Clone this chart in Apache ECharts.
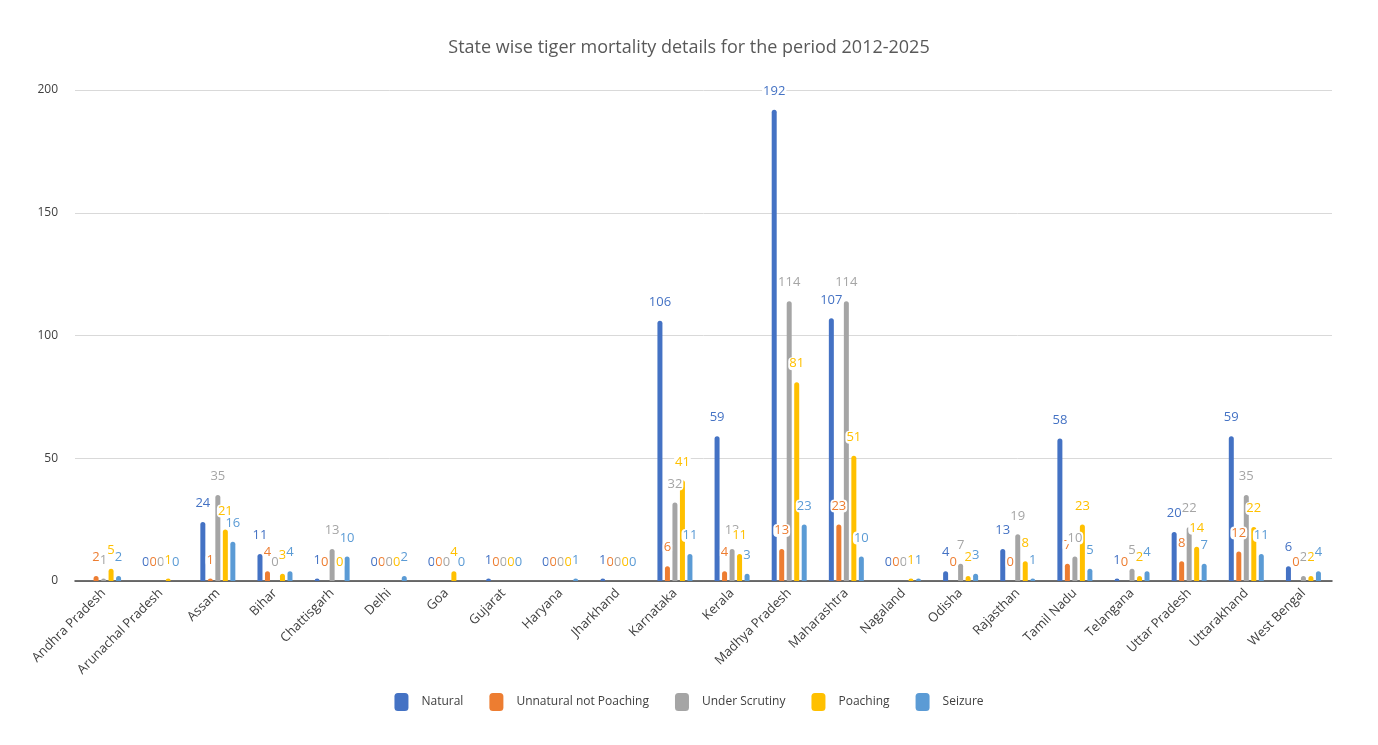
<!DOCTYPE html>
<html>
<head>
<meta charset="utf-8">
<script src="https://cdn.jsdelivr.net/npm/echarts@6/dist/echarts.min.js"></script>
<style>
  html, body { margin: 0; padding: 0; background: #fff; }
  #chart { width: 1378px; height: 745px; }
</style>
</head>
<body>
<div id="chart"></div>
<script>
// States (category axis)
const states = ['Andhra Pradesh', 'Arunachal Pradesh', 'Assam', 'Bihar', 'Chattisgarh', 'Delhi', 'Goa',
  'Gujarat', 'Haryana', 'Jharkhand', 'Karnataka', 'Kerala', 'Madhya Pradesh', 'Maharashtra', 'Nagaland',
  'Odisha', 'Rajasthan', 'Tamil Nadu', 'Telangana', 'Uttar Pradesh', 'Uttarakhand', 'West Bengal'];

// Values per cause (null = no entry)
const natural   = [null, 0, 24, 11, 1, 0, 0, 1, 0, 1, 106, 59, 192, 107, 0, 4, 13, 58, 1, 20, 59, 6];
const unnatural = [2, 0, 1, 4, 0, 0, 0, 0, 0, 0, 6, 4, 13, 23, 0, 0, 0, 7, 0, 8, 12, 0];
const scrutiny  = [1, 0, 35, 0, 13, 0, 0, 0, 0, 0, 32, 13, 114, 114, 0, 7, 19, 10, 5, 22, 35, 2];
const poaching  = [5, 1, 21, 3, 0, 0, 4, 0, 0, 0, 41, 11, 81, 51, 1, 2, 8, 23, 2, 14, 22, 2];
const seizure   = [2, 0, 16, 4, 10, 2, 0, 0, 1, 0, 11, 3, 23, 10, 1, 3, 1, 5, 4, 7, 11, 4];

const yTicks = [0, 50, 100, 150, 200];

const seriesDefs = [
  { name: 'Natural', data: natural, color: '#4472C4' },
  { name: 'Unnatural not Poaching', data: unnatural, color: '#ED7D31' },
  { name: 'Under Scrutiny', data: scrutiny, color: '#A5A5A5' },
  { name: 'Poaching', data: poaching, color: '#FFC000' },
  { name: 'Seizure', data: seizure, color: '#5B9BD5' }
];

const chart = echarts.init(document.getElementById('chart'));

const option = {
  textStyle: { fontFamily: 'Open Sans' },
  title: {
    text: 'State wise tiger mortality details for the period 2012-2025',
    left: 'center',
    top: 34,
    textStyle: { color: '#595959', fontSize: 18, fontWeight: 'normal', fontFamily: 'Open Sans' }
  },
  legend: {
    bottom: 29,
    left: 'center',
    itemWidth: 14,
    itemHeight: 18,
    itemGap: 26,
    icon: 'roundRect',
    textStyle: { color: '#404040', fontSize: 12, padding: [0, 0, 0, 8] },
    data: seriesDefs.map(s => s.name)
  },
  grid: { left: 75, right: 46, top: 90, bottom: 164 },
  xAxis: {
    type: 'category',
    data: states,
    axisTick: { show: false },
    axisLine: { lineStyle: { color: '#404040', width: 1.5 } },
    axisLabel: { rotate: 45, color: '#404040', fontSize: 13, interval: 0, margin: 10 }
  },
  yAxis: {
    type: 'value',
    min: yTicks[0],
    max: yTicks[yTicks.length - 1],
    interval: 50,
    axisLine: { show: false },
    axisTick: { show: false },
    axisLabel: { color: '#404040', fontSize: 12, margin: 17 },
    splitLine: { lineStyle: { color: '#D9D9D9', width: 1 } }
  },
  series: seriesDefs.map(s => ({
    name: s.name,
    type: 'bar',
    data: s.data,
    barWidth: 5,
    barGap: '50%',
    itemStyle: { color: s.color, borderRadius: [3, 3, 0, 0] },
    label: {
      show: true,
      position: 'top',
      distance: 12,
      color: s.color,
      fontSize: 13,
      backgroundColor: '#fff',
      borderRadius: 4,
      padding: [0, 1],
      formatter: p => (p.value == null ? '' : p.value)
    }
  }))
};

chart.setOption(option);
window.addEventListener('resize', () => chart.resize());
</script>
</body>
</html>
